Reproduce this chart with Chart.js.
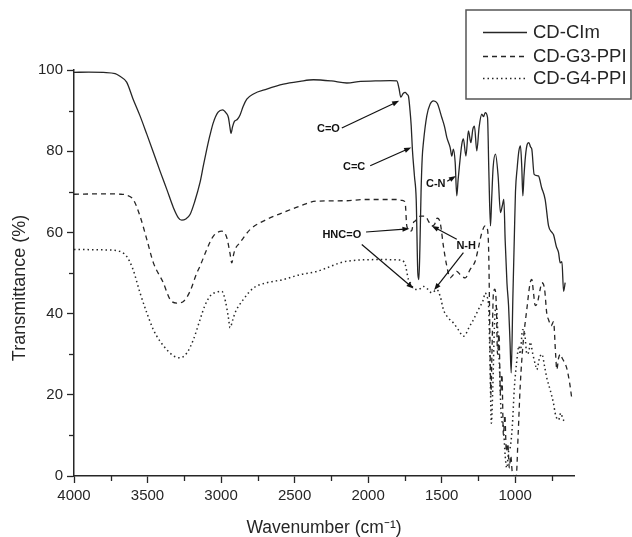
<!DOCTYPE html>
<html>
<head>
<meta charset="utf-8">
<script src="https://cdn.jsdelivr.net/npm/chart.js@4.4.0/dist/chart.umd.min.js"></script>
<style>
  html, body { margin: 0; padding: 0; background: #fff; }
  #wrap { width: 632px; height: 537px; }
</style>
</head>
<body>
<div id="wrap"><canvas id="irChart" width="632" height="537"></canvas></div>
<script>
// Data (wavenumber in cm-1, transmittance in %)
const seriesLabels = ["CD-CIm", "CD-G3-PPI", "CD-G4-PPI"];

const cimWavenumber = [4000, 3900, 3800, 3720, 3690, 3642, 3600, 3551, 3505, 3460, 3415, 3369, 3324, 3290, 3267, 3240, 3211, 3180, 3143, 3120, 3097, 3075, 3052, 3020, 2990, 2965, 2950, 2940, 2932, 2922, 2910, 2890, 2870, 2850, 2825, 2780, 2689, 2576, 2463, 2372, 2250, 2145, 2050, 1950, 1850, 1805, 1790, 1778, 1762, 1748, 1735, 1726, 1715, 1707, 1699, 1685, 1673, 1662, 1655, 1648, 1640, 1632, 1624, 1601, 1578, 1556, 1530, 1499, 1480, 1465, 1442, 1431, 1420, 1408, 1397, 1388, 1379, 1363, 1352, 1335, 1318, 1301, 1288, 1277, 1261, 1245, 1227, 1215, 1204, 1188, 1179, 1168, 1160, 1150, 1134, 1116, 1100, 1088, 1077, 1068, 1056, 1045, 1035, 1027, 1016, 1005, 998, 986, 975, 964, 955, 948, 940, 930, 918, 907, 895, 887, 871, 842, 820, 796, 773, 750, 739, 720, 705, 694, 682, 671, 660];
const cimTransmittance = [99.4, 99.5, 99.4, 99.1, 98.5, 97, 93, 88.7, 84.2, 79.7, 75.1, 70.6, 66.1, 63.6, 63.0, 63.3, 64.4, 67.5, 72.3, 76.5, 80.5, 84, 87.1, 89.6, 90.2, 89.4, 88.3, 86, 84.4, 86, 87.3, 87.8, 89, 91, 92.8, 94.1, 95.3, 96.5, 97.2, 97.6, 97.3, 96.8, 97.2, 97.3, 97.4, 97.3, 95.5, 93.3, 94.2, 94.5, 94, 93.6, 90, 86.3, 80.5, 73.9, 68.1, 50, 48.4, 56, 70, 78.5, 82.1, 88.7, 91.6, 92.4, 91.8, 88.3, 86, 83.4, 80.9, 78.8, 80.5, 77.2, 69, 73, 76.4, 81.7, 83, 78.8, 85, 82.1, 85.4, 86.2, 80.1, 86, 89.1, 88.5, 89.5, 88.3, 75, 61.6, 68, 76, 79.3, 73.9, 64.9, 66.5, 68.1, 58, 47.6, 42, 33, 25.4, 43.5, 60, 70, 76, 80, 81.3, 76, 69, 74, 78.8, 81.7, 82.1, 81, 80.5, 74.3, 73.9, 71, 68.1, 61.6, 60, 59.4, 56.5, 55, 52.5, 52.8, 45.5, 47.6];

const g3Wavenumber = [4000, 3800, 3680, 3642, 3597, 3551, 3505, 3460, 3393, 3347, 3301, 3256, 3211, 3165, 3143, 3097, 3052, 2995, 2961, 2940, 2927, 2915, 2905, 2871, 2803, 2689, 2576, 2463, 2349, 2145, 2032, 1805, 1760, 1748, 1737, 1714, 1703, 1692, 1680, 1646, 1612, 1590, 1567, 1548, 1530, 1515, 1506, 1488, 1465, 1442, 1420, 1397, 1374, 1340, 1306, 1272, 1250, 1227, 1204, 1190, 1180, 1172, 1165, 1158, 1148, 1138, 1128, 1120, 1110, 1100, 1090, 1080, 1070, 1060, 1050, 1040, 1030, 1020, 1005, 993, 980, 966, 944, 921, 898, 887, 875, 864, 850, 830, 818, 800, 785, 773, 755, 739, 725, 717, 705, 694, 680, 665, 649, 630, 614];
const g3Transmittance = [69.4, 69.5, 69.4, 69.2, 68.1, 64, 58.3, 52.5, 47.6, 43.5, 42.6, 43, 45.5, 50, 51.7, 55.8, 59.1, 60.3, 58.7, 55, 52.5, 54.5, 55.8, 57.5, 60.7, 63.2, 64.9, 66.5, 67.7, 67.8, 68.1, 68.1, 67.8, 67.3, 61.6, 60.3, 60.5, 62.4, 62.8, 64, 64, 62.8, 61.6, 62, 63.5, 63, 61.6, 56.6, 51.7, 48.8, 49.6, 50.4, 49.6, 48.8, 50.9, 52.9, 56.2, 59.9, 61.6, 61, 55, 35, 20, 30, 45, 46, 42, 30, 35, 20, 25, 10, 15, 6, 8, 2, 5, 1, 0, 0, 10, 22, 33.6, 41, 47.6, 48.4, 45, 42, 42.5, 46, 47.6, 46, 40, 38.5, 37, 38, 30, 26.2, 29, 30, 29, 28, 26.5, 23, 18.8];

const g4Wavenumber = [4000, 3800, 3710, 3642, 3600, 3551, 3505, 3460, 3415, 3369, 3324, 3279, 3233, 3188, 3143, 3110, 3070, 3030, 2995, 2970, 2950, 2939, 2920, 2905, 2848, 2780, 2689, 2576, 2463, 2349, 2145, 1918, 1782, 1748, 1726, 1714, 1692, 1658, 1624, 1597, 1567, 1533, 1510, 1488, 1454, 1420, 1386, 1352, 1335, 1315, 1284, 1250, 1216, 1204, 1190, 1182, 1172, 1162, 1152, 1140, 1128, 1118, 1108, 1095, 1080, 1068, 1057, 1045, 1034, 1020, 1005, 990, 975, 966, 950, 935, 920, 905, 898, 880, 860, 853, 835, 818, 800, 784, 762, 740, 725, 705, 690, 675, 660];
const g4Transmittance = [55.8, 55.7, 55.5, 54.1, 51, 45.1, 40.2, 36, 33.2, 31.1, 29.6, 29.1, 30.3, 33.6, 38.5, 42, 44.5, 45.3, 45.5, 43, 39, 36.5, 38.5, 40.2, 43.5, 46.3, 47.6, 48.4, 49.6, 50.4, 52.9, 53.3, 53.2, 52.1, 48.4, 47.6, 46.3, 45.9, 46.7, 46.1, 45.1, 45.9, 44.3, 41, 38.9, 37.7, 36, 34.4, 35, 36.5, 38.5, 41, 43.5, 45.1, 44, 42.6, 30, 13, 22, 38, 42, 35, 28, 15, 12, 5, 2, 6, 7, 12, 22, 28, 32, 30, 36, 35, 30, 31, 33, 30, 27, 26.2, 29, 30, 27, 24, 21.2, 18, 15, 13.8, 15.5, 14, 13.4];

const xTicks = [4000, 3500, 3000, 2500, 2000, 1500, 1000];
const xMinorTicks = [3750, 3250, 2750, 2250, 1750, 1250, 750];
const yTicks = [0, 20, 40, 60, 80, 100];
const yMinorTicks = [10, 30, 50, 70, 90];

// band labels: text position and arrows [from, to] in (wavenumber, %T)
const bandLabels = [
  { text: "C=O", at: [2270, 85.4], arrows: [[[2179, 85.7], [1789, 92.4]]] },
  { text: "C=C", at: [2095, 76.2], arrows: [[[1986, 76.4], [1707, 80.9]]] },
  { text: "C-N", at: [1540, 71.9], arrows: [[[1462, 72.6], [1403, 73.9]]] },
  { text: "HNC=O", at: [2179, 59.3], arrows: [[[2014, 60.1], [1719, 60.9]], [[2043, 57], [1692, 46.2]]] },
  { text: "N-H", at: [1333, 56.6], arrows: [[[1397, 58.3], [1567, 61.6]], [[1352, 55], [1551, 45.8]]] }
];

const ink = "#262626";
Chart.defaults.font.family = "'Liberation Sans', Arial, sans-serif";
Chart.defaults.color = ink;

const toPoints = (xs, ys) => xs.map((x, i) => ({ x: x, y: ys[i] }));

function drawArrow(ctx, x1, y1, x2, y2) {
  const a = Math.atan2(y2 - y1, x2 - x1);
  const len = 7, half = 2.6;
  ctx.beginPath();
  ctx.moveTo(x1, y1);
  ctx.lineTo(x2 - len * 0.7 * Math.cos(a), y2 - len * 0.7 * Math.sin(a));
  ctx.stroke();
  ctx.beginPath();
  ctx.moveTo(x2, y2);
  ctx.lineTo(x2 - len * Math.cos(a) + half * Math.sin(a), y2 - len * Math.sin(a) - half * Math.cos(a));
  ctx.lineTo(x2 - len * Math.cos(a) - half * Math.sin(a), y2 - len * Math.sin(a) + half * Math.cos(a));
  ctx.closePath();
  ctx.fill();
}

const extras = {
  id: "extras",
  afterDraw(chart) {
    const ctx = chart.ctx;
    const xs = chart.scales.x, ys = chart.scales.y;
    const area = chart.chartArea;
    ctx.save();

    // minor ticks
    ctx.strokeStyle = ink;
    ctx.lineWidth = 1.3;
    xMinorTicks.forEach(v => {
      const px = Math.round(xs.getPixelForValue(v)) + 0.5;
      ctx.beginPath();
      ctx.moveTo(px, area.bottom);
      ctx.lineTo(px, area.bottom + 5);
      ctx.stroke();
    });
    yMinorTicks.forEach(v => {
      const py = Math.round(ys.getPixelForValue(v)) + 0.5;
      ctx.beginPath();
      ctx.moveTo(area.left - 5, py);
      ctx.lineTo(area.left, py);
      ctx.stroke();
    });

    // band labels with arrows
    ctx.fillStyle = "#111";
    ctx.strokeStyle = "#111";
    ctx.lineWidth = 1.2;
    ctx.font = "bold 11px 'Liberation Sans', Arial, sans-serif";
    ctx.textAlign = "center";
    ctx.textBaseline = "middle";
    bandLabels.forEach(b => {
      ctx.fillText(b.text, xs.getPixelForValue(b.at[0]), ys.getPixelForValue(b.at[1]));
      b.arrows.forEach(([p, q]) => {
        drawArrow(ctx,
          xs.getPixelForValue(p[0]), ys.getPixelForValue(p[1]),
          xs.getPixelForValue(q[0]), ys.getPixelForValue(q[1]));
      });
    });

    // legend box
    ctx.strokeStyle = "#555";
    ctx.lineWidth = 1.5;
    ctx.strokeRect(466, 10, 165, 89);
    ctx.font = "18.5px 'Liberation Sans', Arial, sans-serif";
    ctx.textAlign = "left";
    ctx.fillStyle = ink;
    const rows = [32, 56, 78];
    chart.data.datasets.forEach((ds, i) => {
      ctx.strokeStyle = ds.borderColor;
      ctx.lineWidth = ds.borderWidth;
      ctx.setLineDash(ds.borderDash || []);
      ctx.beginPath();
      ctx.moveTo(483, rows[i] + 0.5);
      ctx.lineTo(527, rows[i] + 0.5);
      ctx.stroke();
      ctx.setLineDash([]);
      ctx.fillText(ds.label, 533, rows[i] + 1);
    });
    ctx.restore();
  }
};

const lineBase = {
  borderColor: ink,
  pointRadius: 0,
  fill: false,
  cubicInterpolationMode: "monotone"
};

new Chart(document.getElementById("irChart"), {
  type: "line",
  data: {
    datasets: [
      Object.assign({}, lineBase, { label: seriesLabels[0], data: toPoints(cimWavenumber, cimTransmittance), borderWidth: 1.3 }),
      Object.assign({}, lineBase, { label: seriesLabels[1], data: toPoints(g3Wavenumber, g3Transmittance), borderWidth: 1.3, borderDash: [5, 4] }),
      Object.assign({}, lineBase, { label: seriesLabels[2], data: toPoints(g4Wavenumber, g4Transmittance), borderWidth: 1.5, borderDash: [1.5, 3] })
    ]
  },
  options: {
    responsive: false,
    animation: false,
    events: [],
    layout: { padding: { top: 70, right: 58, left: 0, bottom: 0 } },
    plugins: {
      legend: { display: false },
      tooltip: { enabled: false }
    },
    scales: {
      x: {
        type: "linear",
        reverse: true,
        min: 600,
        max: 4000,
        afterBuildTicks: axis => { axis.ticks = xTicks.map(v => ({ value: v })); },
        afterFit: axis => { axis.height = 61; },
        border: { display: true, color: ink, width: 1.5 },
        grid: { drawOnChartArea: false, tickLength: 7, tickColor: ink, tickWidth: 1.3 },
        ticks: { font: { size: 15 }, color: ink, padding: 4, maxRotation: 0, callback: v => String(v) },
        title: { display: true, text: "Wavenumber (cm\u207B\u00B9)", font: { size: 17.5, lineHeight: 1.0 }, color: ink, padding: { top: 0, bottom: 0 } }
      },
      y: {
        min: 0,
        max: 100,
        afterBuildTicks: axis => { axis.ticks = yTicks.map(v => ({ value: v })); },
        afterFit: axis => { axis.width = 74; },
        border: { display: true, color: ink, width: 1.5 },
        grid: { drawOnChartArea: false, tickLength: 7, tickColor: ink, tickWidth: 1.3 },
        ticks: { font: { size: 15 }, color: ink, padding: 4, callback: v => String(v) },
        title: { display: true, text: "Transmittance (%)      ", font: { size: 18, lineHeight: 1.2 }, color: ink, padding: { top: 9, bottom: 0 } }
      }
    }
  },
  plugins: [extras]
});
</script>
</body>
</html>
